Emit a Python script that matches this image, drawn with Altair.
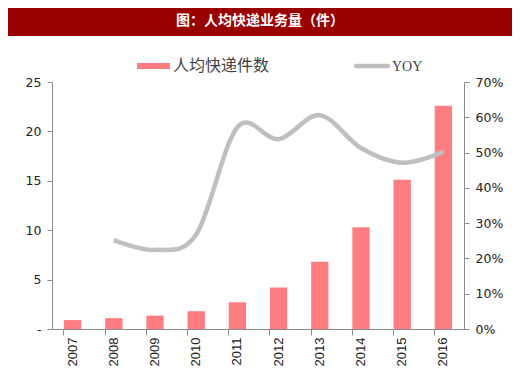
import altair as alt
import pandas as pd

years = ["2007", "2008", "2009", "2010", "2011", "2012", "2013", "2014", "2015", "2016"]
parcels = [0.9, 1.1, 1.35, 1.8, 2.7, 4.2, 6.8, 10.3, 15.1, 22.6]
yoy = [None, 0.252, 0.224, 0.268, 0.572, 0.538, 0.606, 0.513, 0.471, 0.502]

title_text = "图：人均快递业务量（件）"
bar_label = "人均快递件数"
line_label = "YOY"

df = pd.DataFrame({"year": years, "parcels": parcels, "yoy": yoy})
one = pd.DataFrame({"k": [0]})

W, H = 412, 247
BAR = "#FF7C80"
LINE = "#BFBFBF"
AX = "#8C8C8C"
FONT = "DejaVu Sans"

xscale = alt.Scale(paddingInner=0.58, paddingOuter=0.29)

bars = alt.Chart(df).mark_bar(color=BAR).encode(
    x=alt.X("year:N", scale=xscale, sort=years,
            axis=alt.Axis(title=None, labelAngle=-90, ticks=False, domain=False,
                          labelFont="Liberation Sans", labelFontSize=13,
                          labelColor="#222", labelPadding=8, labelBaseline="middle")),
    y=alt.Y("parcels:Q", scale=alt.Scale(domain=[0, 25]),
            axis=alt.Axis(title=None, values=[0, 5, 10, 15, 20, 25], grid=False,
                          labelExpr="datum.value == 0 ? '-' : datum.label",
                          domainColor=AX, tickColor=AX, tickSize=5,
                          labelFont=FONT, labelFontSize=12.5, labelColor="#222",
                          labelPadding=6)),
)

line = alt.Chart(df).mark_line(color=LINE, strokeWidth=4.5, interpolate="cardinal").encode(
    x=alt.X("year:N", scale=xscale, sort=years,
            axis=alt.Axis(title=None, labels=False, bandPosition=0, orient="bottom",
                          domainColor=AX, tickColor=AX, tickSize=6)),
    y=alt.Y("yoy:Q", scale=alt.Scale(domain=[0, 0.7]),
            axis=alt.Axis(title=None, orient="right", format=".0%", grid=False,
                          values=[0, 0.1, 0.2, 0.3, 0.4, 0.5, 0.6, 0.7],
                          domainColor=AX, tickColor=AX, tickSize=5,
                          labelFont=FONT, labelFontSize=12.5, labelColor="#222",
                          labelPadding=6)),
)

# decorations: title band and legend
band = alt.Chart(one).mark_rect(color="#990000").encode(
    x=alt.value(-44), x2=alt.value(460), y=alt.value(-74), y2=alt.value(-46))
ttl = alt.Chart(one).mark_text(color="white", fontSize=14, fontWeight="bold",
                               font="Noto Sans CJK SC", baseline="middle").encode(
    x=alt.value(208), y=alt.value(-61), text=alt.value(title_text))
leg_rect = alt.Chart(one).mark_rect(color=BAR).encode(
    x=alt.value(85), x2=alt.value(118), y=alt.value(-19), y2=alt.value(-13))
leg_text = alt.Chart(one).mark_text(align="left", baseline="middle", fontSize=16,
                                    font="Noto Sans CJK SC", color="#404040").encode(
    x=alt.value(121), y=alt.value(-16), text=alt.value(bar_label))
leg_line = alt.Chart(one).mark_rule(color=LINE, strokeWidth=4.5, strokeCap="round").encode(
    x=alt.value(304), x2=alt.value(336), y=alt.value(-16))
leg_text2 = alt.Chart(one).mark_text(align="left", baseline="middle", fontSize=14,
                                     font="Liberation Serif", color="#404040").encode(
    x=alt.value(340), y=alt.value(-15), text=alt.value(line_label))

main = alt.layer(bars, line).resolve_scale(y="independent").resolve_axis(x="independent")

chart = alt.layer(main, band, ttl, leg_rect, leg_text, leg_line, leg_text2).properties(
    width=W, height=H,
    autosize=alt.AutoSizeParams(type="none"),
    padding={"left": 44, "top": 74, "right": 48, "bottom": 44},
).configure_view(stroke=None)

chart.save("out.html", embed_options={"renderer": "svg", "actions": False})
